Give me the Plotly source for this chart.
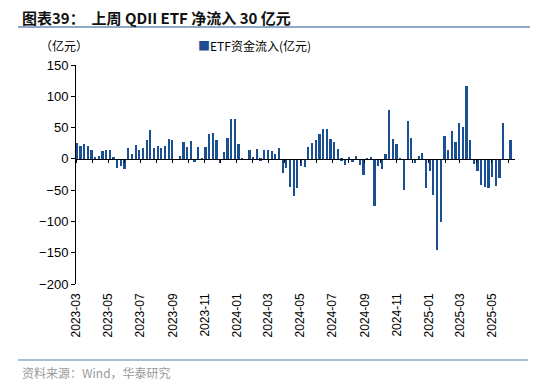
import datetime as dt
import plotly.graph_objects as go

start_date = "2023-03-03"
week_step_days = 7
flows = [25, 21, 24, 21, 14, 3, 5, 13, 14, 14,
         3, -15, -12, -17, 17, 7, 22, 14, 17, 30,
         46, 17, 20, 17, 20, 32, 30, 0, 4, 27,
         19, 29, -5, 19, 1, 19, 40, 41, 30, -6,
         11, 33, 64, 64, 24, 1, 0, 14, 3, 16,
         -3, 14, 14, 12, 8, 17, -22, -15, -45, -59,
         -47, -12, -13, 19, 25, 30, 40, 48, 48, 31,
         27, 16, -3, -10, 2, -5, 5, -10, -25, -2,
         2, -76, -11, -16, 8, 78, 31, 24, 1, -49,
         60, 33, -6, 4, 10, -47, -20, -58, -145, -101,
         36, 14, 45, 27, 57, 51, 117, 30, -8, -20,
         -41, -45, -47, -29, -44, -31, 57, 0, 30]
series_name = "ETF资金流入(亿元)"
y_ticks = [150, 100, 50, 0, -50, -100, -150, -200]
title_text = "图表39：  上周 QDII ETF 净流入 30 亿元"
unit_text = "（亿元）"
source_text = "资料来源：Wind，华泰研究"

d0 = dt.date.fromisoformat(start_date)
dates = [d0 + dt.timedelta(days=week_step_days * i) for i in range(len(flows))]

bar_color = "#1B4F93"
cjk = "Noto Sans CJK SC"
latin = "Liberation Sans, Arial"

# the page body adds an 8px offset; the figure is sized to fit the window
OFF = 8
W, H = 550 - 2 * OFF, 391 - 2 * OFF
L, T = 76 - OFF, 65 - OFF
R = W - (515 - OFF)
B = H - (284 - OFF)
PH = H - T - B
PW = W - L - R


def py(ypix):
    return (H - B - (ypix - OFF)) / PH


def px(xpix):
    return ((xpix - OFF) - L) / PW


fig = go.Figure()
fig.add_trace(go.Bar(
    x=dates, y=flows, name=series_name,
    marker=dict(color=bar_color, line=dict(width=0)),
    width=3.3 * 24 * 3600 * 1000,
    showlegend=False,
))
fig.add_trace(go.Scatter(x=[dates[0]], y=[0], xaxis="x2", mode="markers",
                         marker=dict(opacity=0), showlegend=False, hoverinfo="skip"))

x_range = ["2023-03-01", "2025-06-14"]
ymin, ymax = -200, 150
zero_pos = (0 - ymin) / (ymax - ymin)

fig.update_layout(
    width=W, height=H,
    margin=dict(l=L, r=R, t=T, b=B, autoexpand=False),
    paper_bgcolor="white", plot_bgcolor="white",
    bargap=0,
    font=dict(family=latin, size=12, color="#000000"),
    xaxis=dict(
        type="date", range=x_range, automargin=False,
        tickformat="%Y-%m", dtick="M2", tick0="2023-03-01",
        tickangle=-90, ticks="", showline=False, showgrid=False, zeroline=False,
        tickfont=dict(family=latin, size=12, color="#000000"),
        ticklabelstandoff=6,
    ),
    xaxis2=dict(
        type="date", range=x_range, overlaying="x", anchor="free",
        position=zero_pos, side="bottom", automargin=False,
        dtick="M1", tick0="2023-03-01", ticks="outside", ticklen=3,
        tickcolor="#000000", tickwidth=1,
        showticklabels=False, showline=True, linecolor="#000000", linewidth=1,
        showgrid=False, zeroline=False,
    ),
    yaxis=dict(
        range=[ymin, ymax], tickvals=y_ticks, ticks="outside", ticklen=4,
        automargin=False,
        tickcolor="#000000", showline=True, linecolor="#000000", linewidth=1,
        showgrid=False, zeroline=False,
        tickfont=dict(family=latin, size=13, color="#000000"),
    ),
    shapes=[
        dict(type="line", xref="paper", yref="paper",
             x0=px(18), x1=px(530), y0=py(27), y1=py(27),
             line=dict(color="#8FA9C9", width=2)),
        dict(type="line", xref="paper", yref="paper",
             x0=px(18), x1=px(528), y0=py(360), y1=py(360),
             line=dict(color="#8FA9C9", width=1.5)),
    ],
    annotations=[
        dict(text="<b>" + title_text + "</b>", xref="paper", yref="paper",
             x=px(20), y=py(17), xanchor="left", yanchor="middle",
             showarrow=False, font=dict(family=cjk, size=15, color="#111111")),
        dict(text=unit_text, xref="paper", yref="paper",
             x=px(38), y=py(45), xanchor="left", yanchor="middle",
             showarrow=False, font=dict(family=cjk, size=12, color="#000000")),
        dict(text="<span style='color:%s'>■</span>%s" % (bar_color, series_name),
             xref="paper", yref="paper",
             x=px(196), y=py(45), xanchor="left", yanchor="middle",
             showarrow=False, font=dict(family=cjk, size=12, color="#000000")),
        dict(text=source_text, xref="paper", yref="paper",
             x=px(20), y=py(372), xanchor="left", yanchor="middle",
             showarrow=False, font=dict(family=cjk, size=12, color="#9A9A9A")),
    ],
)

fig.write_html("out.html")
